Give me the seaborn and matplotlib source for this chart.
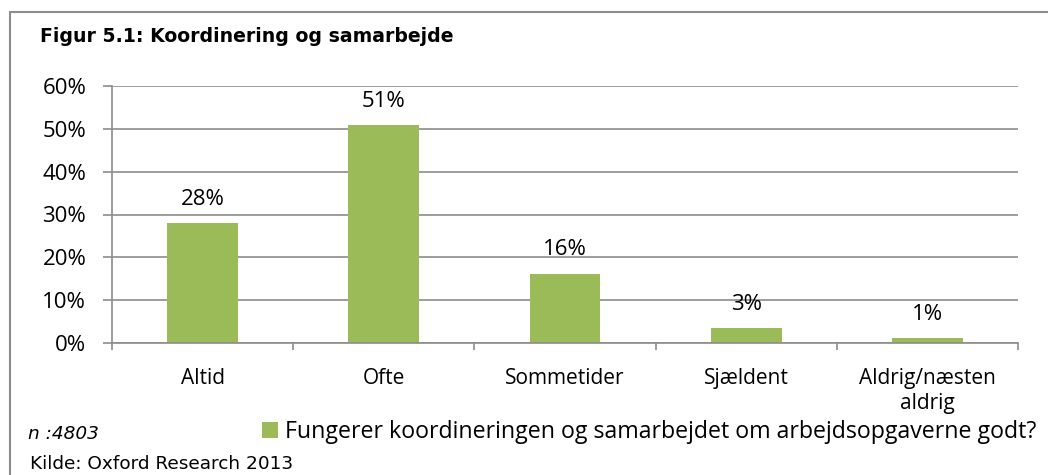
import matplotlib
matplotlib.use("Agg")
import matplotlib.pyplot as plt
import seaborn as sns
import pandas as pd
from matplotlib.lines import Line2D
from matplotlib.ticker import PercentFormatter, FixedLocator

categories = ["Altid", "Ofte", "Sommetider", "Sjældent", "Aldrig/næsten\naldrig"]
values = [28.1, 50.9, 16.2, 3.4, 1.2]
value_labels = ["28%", "51%", "16%", "3%", "1%"]
series_name = "Fungerer koordineringen og samarbejdet om arbejdsopgaverne godt?"
y_ticks = [0, 10, 20, 30, 40, 50, 60]
title = "Figur 5.1: Koordinering og samarbejde"
note_n = "n :4803"
source = "Kilde: Oxford Research 2013"

GREEN = "#9BBB59"
GRID = "#8C8C8C"
W, H = 1048, 475

sns.set_theme(style="white")
plt.rcParams["font.family"] = ["Open Sans", "DejaVu Sans"]
plt.rcParams["text.color"] = "black"
plt.rcParams["xtick.color"] = "black"
plt.rcParams["ytick.color"] = "black"

fig = plt.figure(figsize=(W / 100, H / 100), dpi=100)
ax = fig.add_axes([112 / W, 1 - 343 / H, (1018 - 112) / W, (343 - 86) / H])

df = pd.DataFrame({"cat": categories, "val": values})
sns.barplot(data=df, x="cat", y="val", color=GREEN, width=0.39,
            saturation=1, ax=ax, label=series_name, linewidth=0, edgecolor="none")

ax.set_ylim(0, 60)
ax.set_xlim(-0.5, len(categories) - 0.5)
ax.yaxis.set_major_locator(FixedLocator(y_ticks))
ax.yaxis.set_major_formatter(PercentFormatter(decimals=0))
ax.grid(axis="y", color=GRID, linewidth=1.2)
ax.set_axisbelow(True)
ax.set_xlabel("")
ax.set_ylabel("")

for s in ["top", "right"]:
    ax.spines[s].set_visible(False)
for s in ["left", "bottom"]:
    ax.spines[s].set_color(GRID)
    ax.spines[s].set_linewidth(1.2)

ax.tick_params(axis="y", which="major", length=6.5, width=1.2, color=GRID,
               labelsize=16, pad=12, left=True, labelcolor="black")
ax.tick_params(axis="x", which="major", length=0, labelsize=15, pad=18,
               labelcolor="black")
ax.set_xticks(range(len(categories)))
ax.set_xticklabels(categories, linespacing=1.25)
ax.xaxis.set_minor_locator(FixedLocator([i - 0.5 for i in range(len(categories) + 1)]))
ax.tick_params(axis="x", which="minor", length=5, width=1.2, color=GRID, bottom=True)

for i, (v, lab) in enumerate(zip(values, value_labels)):
    ax.annotate(lab, (i, v), xytext=(0, 17), textcoords="offset points",
                ha="center", va="center", fontsize=16, color="black")

leg = ax.legend(loc="center left", bbox_to_anchor=(262 / W, 1 - 432 / H),
                bbox_transform=fig.transFigure, frameon=False, fontsize=16.7,
                handlelength=0.7, handleheight=0.7, handletextpad=0.3,
                borderpad=0, borderaxespad=0)
for t in leg.get_texts():
    t.set_color("black")

fig.text(40 / W, 1 - 36 / H, title, fontsize=13.6, fontweight="bold",
         family="DejaVu Sans", ha="left", va="center", color="black")
fig.text(28 / W, 1 - 434 / H, note_n, fontsize=13.3, style="italic",
         family="DejaVu Sans", ha="left", va="center", color="black")
fig.text(30 / W, 1 - 464 / H, source, fontsize=13.3,
         family="DejaVu Sans", ha="left", va="center", color="black")

fig.add_artist(Line2D([10 / W, 1], [1 - 12 / H, 1 - 12 / H], transform=fig.transFigure,
                      color="#8C8C8C", linewidth=1.5))
fig.add_artist(Line2D([10 / W, 10 / W], [0, 1 - 12 / H], transform=fig.transFigure,
                      color="#8C8C8C", linewidth=1.5))

fig.savefig("out.png", dpi=100, facecolor="white")
